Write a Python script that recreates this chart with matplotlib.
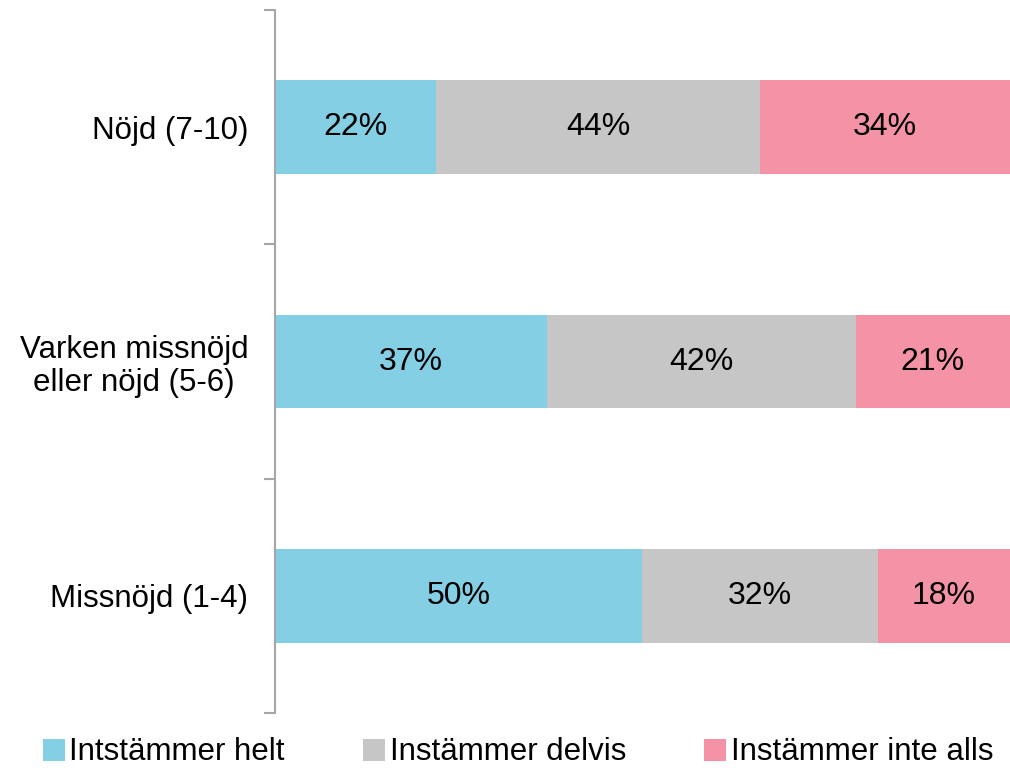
import numpy as np
import matplotlib.pyplot as plt
from matplotlib.patches import Patch

plt.rcParams['font.family'] = ['Liberation Sans', 'DejaVu Sans']

# data
categories = ['Missnöjd (1-4)', 'Varken missnöjd\neller nöjd (5-6)', 'Nöjd (7-10)']
helt = [50, 37, 22]
delvis = [32, 42, 44]
inte = [18, 21, 34]
series_names = ['Intstämmer helt', 'Instämmer delvis', 'Instämmer inte alls']
colors = ['#84CFE4', '#C6C6C6', '#F393A5']

fig = plt.figure(figsize=(10.1, 7.8), dpi=100)
ax = fig.add_axes([0.272, 0.086, 0.728, 0.901])

y = np.arange(len(categories))
left = np.zeros(len(categories))
for vals, col in zip([helt, delvis, inte], colors):
    vals = np.array(vals, dtype=float)
    ax.barh(y, vals / 100, left=left, height=0.4, color=col, edgecolor='none')
    for yi, l, v in zip(y, left, vals):
        ax.text(l + v / 200, yi, f'{int(v)}%', ha='center', va='center', fontsize=23, color='black')
    left += vals / 100

ax.set_xlim(0, 1)
ax.set_ylim(-0.5, 2.5)
ax.set_xticks([])
ax.set_yticks([-0.5, 0.5, 1.5, 2.5])
ax.set_yticklabels([])
ax.set_yticks(y, minor=True)
ax.set_yticklabels(categories, minor=True, fontsize=22.5, ha='right', multialignment='center',
                   linespacing=1.15)
ax.tick_params(axis='y', which='minor', length=0, pad=19)
ax.tick_params(axis='y', which='major', length=8, color='#A6A6A6', width=1.5)
for s in ['top', 'right', 'bottom']:
    ax.spines[s].set_visible(False)
ax.spines['left'].set_color('#A6A6A6')
ax.spines['left'].set_linewidth(1.5)

handles = [Patch(facecolor=c, edgecolor='none') for c in colors]
fig.legend(handles, series_names, loc='lower left', bbox_to_anchor=(0.03, 0.0), ncol=3,
           frameon=False, fontsize=22.5, handlelength=0.7, handleheight=0.7,
           handletextpad=0.15, columnspacing=2.5, borderaxespad=0)

fig.savefig('out.png', dpi=100)
